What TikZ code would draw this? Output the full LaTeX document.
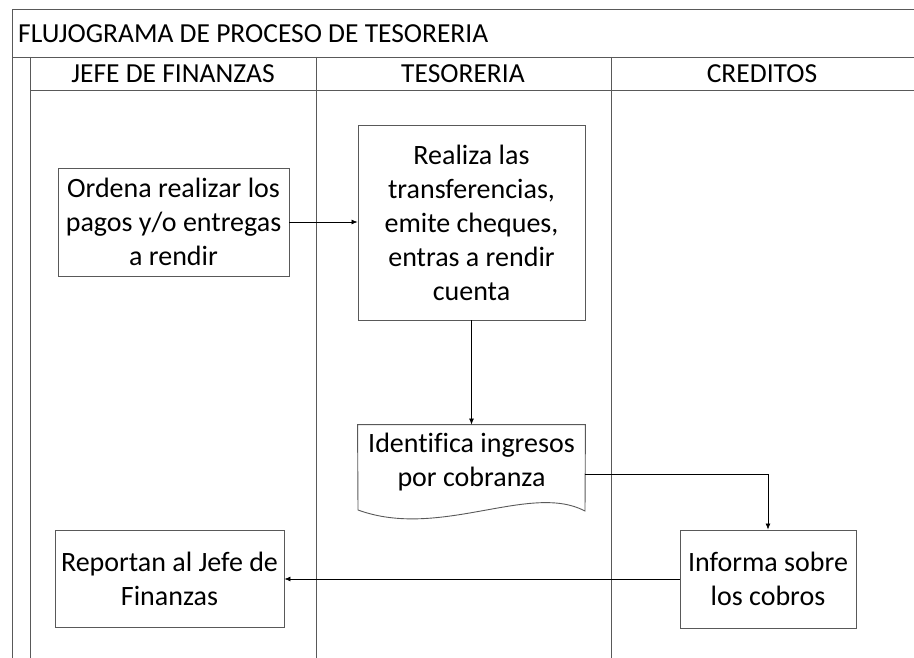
\documentclass[tikz,border=0pt]{standalone}
\usepackage{fontspec}
\setmainfont[Ligatures=NoCommon]{Carlito}
\usetikzlibrary{arrows.meta}
\begin{document}
\begin{tikzpicture}[x=1pt,y=-1pt,
  lane/.style={draw=black!65, line width=0.9pt},
  box/.style={draw=black!65, line width=0.9pt, rectangle, align=center, inner sep=2pt,
    font=\fontsize{28}{34}\selectfont},
  hdr/.style={font=\fontsize{27.5}{30}\selectfont, inner sep=0pt},
  conn/.style={draw=black, line width=0.7pt, -{Latex[length=6pt,width=5pt]}}]
\useasboundingbox (0,0) rectangle (914,658);
% table frame
\draw[lane] (12,658) -- (12,9) -- (914,9);
\draw[lane] (12,57) -- (914,57);
\draw[lane] (30,90) -- (914,90);
\draw[lane] (30,57) -- (30,658);
\draw[lane] (316,57) -- (316,658);
\draw[lane] (611,57) -- (611,658);
% headers
\node[hdr, anchor=west] (title) at (18,34) {FLUJOGRAMA DE PROCESO DE TESORERIA};
\node[hdr] (h1) at (173,74) {JEFE DE FINANZAS};
\node[hdr] (h2) at (463,74) {TESORERIA};
\node[hdr] (h3) at (762,74) {CREDITOS};
% boxes
\node[box, minimum width=231, minimum height=108] (ordena) at (173.5,222) {Ordena realizar los\\pagos y/o entregas\\a rendir};
\node[box, minimum width=227, minimum height=195] (realiza) at (471.5,222.5) {Realiza las\\transferencias,\\emite cheques,\\entras a rendir\\cuenta};
\node[box, draw=none, minimum width=227, minimum height=86] (doc) at (471.5,468) {};
\node[box, draw=none, inner sep=0pt] (doctext) at (471.5,462) {Identifica ingresos\\por cobranza};
\draw[draw=black!65, line width=0.9pt] (doc.north west) -- (doc.north east) -- (585,511)
  .. controls (530,482) and (440,540) .. (358,510) -- cycle;
\node[box, minimum width=176, minimum height=98] (informa) at (768,579) {Informa sobre\\los cobros};
\node[box, minimum width=229, minimum height=97] (reportan) at (169.5,578.5) {Reportan al Jefe de\\Finanzas};
% connectors
\draw[conn] (ordena.east) -- (realiza.west |- ordena.east);
\draw[conn] (realiza.south) -- (doc.north);
\coordinate (dr) at (585,474);
\draw[conn] (dr) -| (informa.north);
\draw[conn] (informa.west) -- (reportan.east |- informa.west);
\end{tikzpicture}
\end{document}
